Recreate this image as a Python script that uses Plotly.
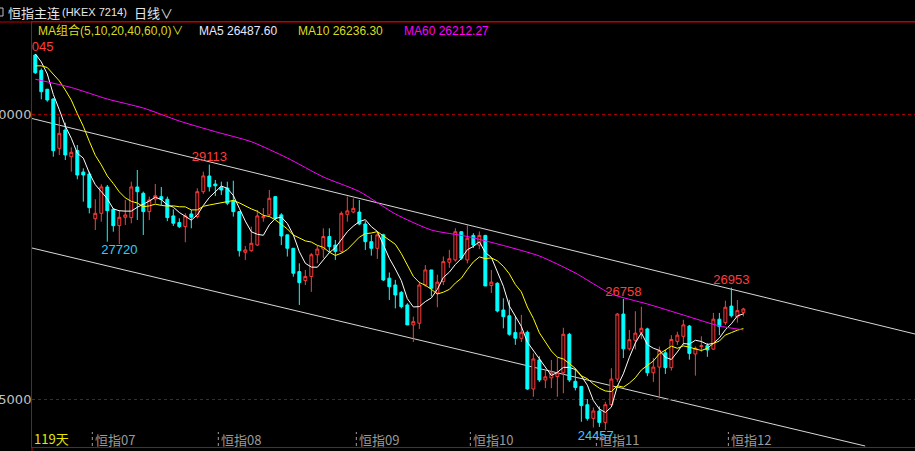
import plotly.graph_objects as go

# ---------------- data ----------------
opens = [31035, 30765, 30434, 30263, 29398, 29719, 29251, 29358, 28983, 28948,
         28163, 28258, 28720, 28328, 28041, 28188, 28182, 28720, 28609, 28287,
         28509, 28550, 28504, 28212, 28095, 28025, 28247, 28200, 28637, 28913,
         28772, 28715, 28700, 28480, 28287, 27574, 27602, 27702, 28180, 28230,
         28550, 28230, 27880, 27644, 27235, 27078, 27150, 27530, 27630, 27850,
         27700, 27590, 28240, 28280, 28280, 28070, 27760, 27644, 27880, 27120,
         27000, 26870, 26650, 26300, 26330, 27000, 27264, 26860, 27060, 27400,
         27440, 27935, 27440, 27870, 27700, 27870, 26990, 27030, 26562, 26460,
         26165, 26066, 26170, 25176, 25685, 25334, 25370, 25395, 25460, 26135,
         25310, 25220, 24900, 24660, 24790, 24590, 24900, 25350, 26490, 25880,
         26030, 26170, 26230, 25460, 25560, 25810, 25550, 26010, 26100, 26280,
         25790, 25920, 25935, 25875, 26400, 26340, 26630, 26440, 26520]
highs = [31045, 30800, 30440, 30280, 29953, 29848, 29416, 29456, 29047, 28988,
         28504, 28767, 28755, 28346, 28316, 28492, 28813, 29018, 28638, 28550,
         28772, 28720, 28550, 28328, 28170, 28258, 28316, 28697, 28988, 29113,
         28842, 28813, 28813, 28830, 28290, 27685, 28025, 28316, 28350, 28667,
         28560, 28260, 27880, 27650, 27380, 27264, 27560, 27685, 27995, 27995,
         27790, 28290, 28550, 28520, 28490, 28120, 27880, 27935, 27900, 27220,
         27090, 26895, 26680, 26445, 27060, 27350, 27264, 27180, 27500, 27615,
         27995, 27940, 28050, 27910, 27940, 27880, 27264, 27050, 26767, 26740,
         26445, 26475, 26200, 25800, 25750, 25510, 25685, 25725, 26250, 26160,
         25540, 25230, 25000, 24850, 24870, 24950, 25540, 26510, 26758, 26210,
         26540, 26620, 26250, 25720, 25920, 25860, 26120, 26180, 26390, 26300,
         25920, 26100, 25980, 26510, 26510, 26725, 26953, 26738, 26600]
lows = [30702, 30258, 30216, 29251, 29281, 29193, 28988, 28855, 28462, 28257,
        27965, 28111, 27760, 27935, 27720, 28053, 28083, 28141, 27878, 28141,
        28434, 28400, 28120, 28036, 28000, 27750, 27995, 28170, 28600, 28640,
        28562, 28580, 28400, 28200, 27500, 27440, 27585, 27685, 28110, 28200,
        28141, 27700, 27500, 27146, 26650, 27000, 26880, 27380, 27470, 27560,
        27440, 27560, 28110, 28260, 28050, 27615, 27515, 27457, 27070, 26738,
        26590, 26590, 26300, 26000, 26230, 26970, 26800, 26610, 27000, 27300,
        27410, 27440, 27380, 27650, 27630, 26983, 26860, 26520, 26240, 26110,
        25950, 26000, 25160, 25040, 25300, 25190, 25190, 25040, 25100, 25300,
        25150, 24600, 24620, 24500, 24510, 24457, 24880, 25300, 25720, 25850,
        25870, 26050, 25400, 25300, 25010, 25440, 25500, 25950, 25950, 25690,
        25410, 25830, 25740, 25860, 26120, 26300, 26430, 26340, 26450]
closes = [30724, 30391, 30246, 29356, 29661, 29281, 29328, 28930, 28930, 28357,
          28258, 28720, 28304, 28041, 28188, 28229, 28720, 28637, 28287, 28492,
          28567, 28504, 28182, 28083, 28025, 28212, 28188, 28637, 28913, 28725,
          28740, 28667, 28434, 28287, 27602, 27615, 27732, 28212, 28200, 28521,
          28170, 27860, 27644, 27206, 27042, 27150, 27530, 27630, 27850, 27675,
          27590, 28258, 28300, 28345, 28070, 27760, 27644, 27880, 27088, 26970,
          26825, 26620, 26300, 26357, 27000, 27264, 26943, 27050, 27410, 27460,
          27935, 27470, 27820, 27700, 27870, 26983, 27050, 26545, 26445, 26135,
          26066, 26170, 25176, 25702, 25334, 25390, 25455, 25460, 26135, 25334,
          25200, 24884, 24660, 24790, 24590, 24900, 25350, 26490, 25880, 26040,
          26155, 26240, 25460, 25560, 25850, 25550, 26045, 26120, 26300, 25800,
          25890, 25935, 25860, 26400, 26270, 26610, 26460, 26550, 26580]
# closes of the 9 sessions before the window (inferred from where MA5/MA10 start)
pre_closes = [30391, 30546, 30456, 30900, 30880, 31100, 31300, 31150, 31000]

# MA60
ma60_idx = [0, 6, 12, 18, 24, 30, 36, 42, 48, 54, 60, 66, 72, 78, 84, 90, 96, 102, 108, 114, 118]
ma60_val = [30610, 30465, 30263, 30105, 29877, 29690, 29514, 29228, 28895, 28640, 28246,
            27965, 27851, 27693, 27509, 27211, 26843, 26667, 26474, 26281, 26212.27]

month_start = [10, 31, 54, 73, 94, 116]
month_labels = ["恒指07", "恒指08", "恒指09", "恒指10", "恒指11", "恒指12"]

# highlighted extremes: candle index, which value
mark_idx = [0, 29, 14, 98, 116, 95]
mark_kind = ["high", "high", "low", "high", "high", "low"]

ytick_vals = [25000, 30000]

# trend channel (drawn lines): (index, price) endpoints
upper_line = [(-0.55, 29921), (146.6, 26140)]
lower_line = [(-0.55, 27649), (138.3, 24175)]

ma_legend = [("MA5", 26487.60), ("MA10", 26236.30), ("MA60", 26212.27)]

# ---------------- derived ----------------
n = len(closes)
xs = list(range(n))
full = pre_closes + closes
off = len(pre_closes)
ma5 = [sum(full[i + off - 4:i + off + 1]) / 5 for i in range(n)]
ma10 = [sum(full[i + off - 9:i + off + 1]) / 10 for i in range(n)]

# ---------------- layout geometry ----------------
W, H = 915, 451
ML, MT, MB = 32, 22, 4
PW, PH = W - ML, H - MT - MB
YMIN, YMAX = 24158, 31614
XMIN, XMAX = -0.55, 146.6


def px(x):
    return (x - ML) / PW


def py(y):
    return (H - MB - y) / PH


RED_UP = "#ff3c3c"
CYAN = "#00ffff"
NUMFONT = "Liberation Sans, Arial, Noto Sans CJK SC"
CJK = "Noto Sans CJK SC, Liberation Sans"

fig = go.Figure()
fig.add_trace(go.Candlestick(
    x=xs, open=opens, high=highs, low=lows, close=closes,
    increasing=dict(line=dict(color=RED_UP, width=1), fillcolor="#000000"),
    decreasing=dict(line=dict(color=CYAN, width=1), fillcolor=CYAN),
    whiskerwidth=0, hoverinfo="skip", showlegend=False))

fig.add_trace(go.Scatter(x=xs, y=ma5, mode="lines", line=dict(color="#ffffff", width=1),
                         hoverinfo="skip", showlegend=False))
fig.add_trace(go.Scatter(x=xs, y=ma10, mode="lines", line=dict(color="#ffff00", width=1),
                         hoverinfo="skip", showlegend=False))
fig.add_trace(go.Scatter(x=ma60_idx, y=ma60_val, mode="lines",
                         line=dict(color="#ff00ff", width=1, shape="spline", smoothing=0.6),
                         hoverinfo="skip", showlegend=False))

# extreme labels
for k, kind in zip(mark_idx, mark_kind):
    val = highs[k] if kind == "high" else lows[k]
    col = "#ff3c3c" if kind == "high" else "#33ccff"
    xx = k - 1.6 if (kind == "low" and k == 95) else k
    fig.add_trace(go.Scatter(
        x=[xx], y=[val], mode="text", text=[str(int(val))],
        textposition="top center" if kind == "high" else "bottom center",
        textfont=dict(color=col, size=13, family=NUMFONT),
        cliponaxis=True, hoverinfo="skip", showlegend=False))

shapes = []
for a, b in [(upper_line[0], upper_line[1]), (lower_line[0], lower_line[1])]:
    shapes.append(dict(type="line", xref="x", yref="y", x0=a[0], y0=a[1], x1=b[0], y1=b[1],
                       line=dict(color="#d8d8d8", width=1), layer="below"))
for m in month_start:
    shapes.append(dict(type="line", xref="x", yref="paper", x0=m - 0.5, x1=m - 0.5,
                       y0=py(446), y1=py(432), line=dict(color="#a0a0a0", width=1, dash="dot")))
# header separator and small icon at far left
shapes.append(dict(type="line", xref="paper", yref="paper", x0=px(0), x1=px(W), y0=py(22), y1=py(22),
                   line=dict(color="#c00000", width=1)))
shapes.append(dict(type="rect", xref="paper", yref="paper", x0=px(-5), x1=px(3), y0=py(16), y1=py(8),
                   line=dict(color="#c0c0c0", width=1)))
shapes.append(dict(type="line", xref="paper", yref="paper", x0=px(32), x1=px(32), y0=py(451), y1=py(447),
                   line=dict(color="#c00000", width=1)))

ann = []
header = [("恒指主连", 6, 13, CJK), ("(HKEX 7214)", 60, 11, "Liberation Sans, Arial"), ("日线∨", 132, 13, CJK)]
for txt, hx, hs, hf in header:
    ann.append(dict(text=txt, x=px(hx), y=py(12), xref="paper", yref="paper",
                    xanchor="left", yanchor="middle", showarrow=False,
                    font=dict(color="#e6e6e6", size=hs, family=hf)))
ann.append(dict(text="MA组合(5,10,20,40,60,0)∨", x=px(36), y=py(31), xref="paper", yref="paper",
                xanchor="left", yanchor="middle", showarrow=False,
                font=dict(color="#dcdc1e", size=12, family=NUMFONT)))
leg_x = [197, 296, 402]
leg_col = ["#e8e8ff", "#dcdc1e", "#ff00ff"]
for (name, v), lx, c in zip(ma_legend, leg_x, leg_col):
    ann.append(dict(text=f"{name} {v:.2f}", x=px(lx), y=py(31), xref="paper", yref="paper",
                    xanchor="left", yanchor="middle", showarrow=False,
                    font=dict(color=c, size=12, family=NUMFONT)))
ann.append(dict(text=f"{n}天", x=px(32), y=py(438), xref="paper", yref="paper",
                xanchor="left", yanchor="middle", showarrow=False,
                font=dict(color="#e6e600", size=13, family=CJK)))
for m, lab in zip(month_start, month_labels):
    ann.append(dict(text=lab, x=m - 0.5, y=py(439), xref="x", yref="paper",
                    xanchor="left", yanchor="middle", showarrow=False, xshift=1,
                    font=dict(color="#9a9a9a", size=13, family=CJK)))

fig.update_layout(
    width=W, height=H,
    margin=dict(l=ML, r=0, t=MT, b=MB, pad=0, autoexpand=False),
    paper_bgcolor="#000000", plot_bgcolor="#000000",
    shapes=shapes, annotations=ann, showlegend=False,
    xaxis=dict(range=[XMIN, XMAX], showgrid=False, zeroline=False, showticklabels=False,
               showline=True, linecolor="#c00000", linewidth=1, mirror=True,
               rangeslider=dict(visible=False), fixedrange=True, automargin=False),
    yaxis=dict(range=[YMIN, YMAX], tickvals=ytick_vals, ticktext=[str(v) for v in ytick_vals],
               showgrid=True, gridcolor="#a00000", griddash="dot", gridwidth=1,
               zeroline=False, showline=True, linecolor="#c00000", linewidth=1,
               ticks="", ticklabelstandoff=-3, automargin=False,
               tickfont=dict(color="#c0c0c0", size=13, family="DejaVu Sans, Liberation Sans"),
               fixedrange=True),
)

fig.write_html("out.html", config={"displayModeBar": False, "staticPlot": True},
               post_script="document.body.style.margin='0';document.body.style.padding='0';"
                           "document.body.style.background='#000';")
